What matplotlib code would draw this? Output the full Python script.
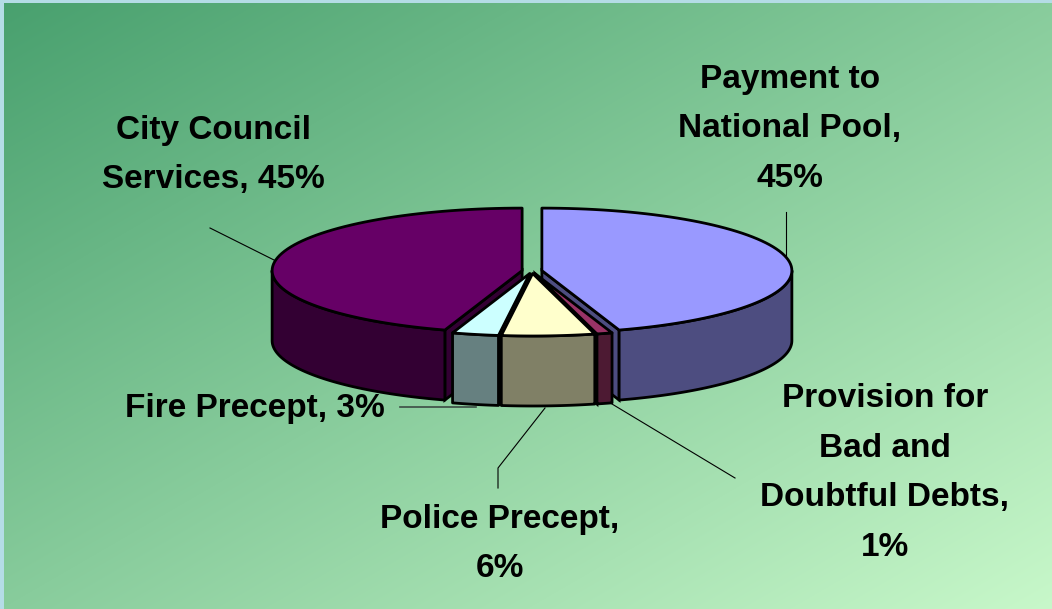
import numpy as np
import matplotlib.pyplot as plt
from matplotlib.patches import Polygon
from matplotlib.colors import to_rgb

# data (clockwise from 12 o'clock)
labels = ['Payment to\nNational Pool,\n45%',
          'Provision for\nBad and\nDoubtful Debts,\n1%',
          'Police Precept,\n6%',
          'Fire Precept, 3%',
          'City Council\nServices, 45%']
shares = [45, 1, 6, 3, 45]
top_colors = ['#9999FF', '#993366', '#FFFFCC', '#CCFFFF', '#660066']

W, H = 1052, 609
fig = plt.figure(figsize=(W / 100, H / 100), dpi=100)
ax = fig.add_axes([0, 0, 1, 1])
ax.set_xlim(0, W)
ax.set_ylim(H, 0)
ax.axis('off')

# background gradient + light blue frame
yy, xx = np.mgrid[0:H, 0:W]
t = (xx / W + yy / H) / 2
c0 = np.array(to_rgb('#48A06E'))
c1 = np.array(to_rgb('#C8F8CA'))
bg = c0 + (c1 - c0) * t[..., None]
bg[:3, :] = to_rgb('#B4DCE6')
bg[:, :4] = to_rgb('#B4DCE6')
ax.imshow(bg, extent=(0, W, H, 0), zorder=0)

# 3d pie geometry (pixels)
cx, cy = 532, 271
R, ry, h = 250, 62.5, 70
k = ry / R
d = 10
lw = 2.0

pct = np.array(shares, dtype=float)
ang = np.concatenate([[0], np.cumsum(pct / pct.sum() * 360)])


def pt(theta, r, ox, od, down=0):
    th = np.radians(theta)
    return cx + ox + r * np.sin(th), cy - k * (od + r * np.cos(th)) + down


def arc(a1, a2, ox, od, down=0, n=80):
    th = np.linspace(a1, a2, n)
    return [pt(a, R, ox, od, down) for a in th]


slices = []
for i in range(len(shares)):
    a1, a2 = ang[i], ang[i + 1]
    mid = np.radians((a1 + a2) / 2)
    slices.append((np.cos(mid), i, a1, a2, d * np.sin(mid), d * np.cos(mid)))
slices.sort(key=lambda s: -s[0])

z = 2
for _, i, a1, a2, ox, od in slices:
    top = top_colors[i]
    side = tuple(np.array(to_rgb(top)) * 0.5)
    c_top = pt(0, 0, ox, od)
    c_bot = pt(0, 0, ox, od, h)
    # radial cut faces
    for a, vis in ((a1, np.sin(np.radians(a1)) < -1e-3), (a2, np.sin(np.radians(a2)) > 1e-3)):
        if vis:
            poly = [c_top, pt(a, R, ox, od), pt(a, R, ox, od, h), c_bot]
            ax.add_patch(Polygon(poly, closed=True, fc=side, ec='black', lw=lw, zorder=z))
            z += 1
    # outer wall
    w1, w2 = max(a1, 90), min(a2, 270)
    if w2 > w1:
        poly = arc(w1, w2, ox, od) + arc(w1, w2, ox, od, h)[::-1]
        ax.add_patch(Polygon(poly, closed=True, fc=side, ec='black', lw=lw,
                             joinstyle='round', zorder=z))
        z += 1
    # top face
    poly = [c_top] + arc(a1, a2, ox, od)
    ax.add_patch(Polygon(poly, closed=True, fc=top, ec='black', lw=lw,
                         joinstyle='round', zorder=z))
    z += 1

# leader lines
lk = dict(color='black', lw=0.8, zorder=1)
ax.plot([210, 278], [228, 262], **lk)
ax.plot([786, 786], [212, 262], **lk)
ax.plot([400, 476], [407, 407], color='#3C4C44', lw=1.2, zorder=1)
ax.plot([545, 498, 498], [408, 468, 488], **lk)
ax.plot([612, 735], [404, 478], **lk)

# labels
fk = dict(family='Liberation Sans', weight='bold', fontsize=24, color='black',
          ha='center', va='center', linespacing=1.78, zorder=50)
ax.text(213, 155, labels[4], **fk)
ax.text(790, 129, labels[0], **fk)
ax.text(885, 473, labels[1], **fk)
ax.text(500, 544, labels[2], **fk)
ax.text(255, 408, labels[3], **fk)

fig.savefig('out.png', dpi=100)
